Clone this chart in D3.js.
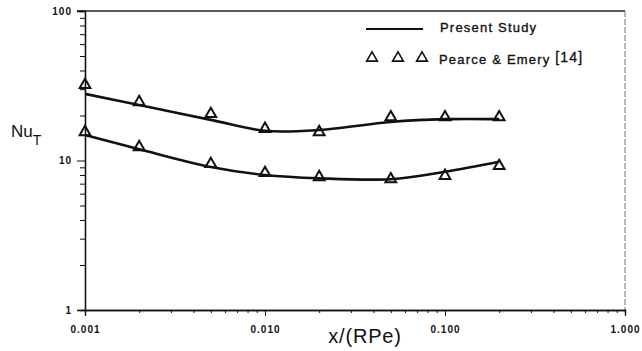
<!DOCTYPE html>
<html>
<head>
<meta charset="utf-8">
<script src="https://cdn.jsdelivr.net/npm/d3@7"></script>
<style>
	body { margin: 0; background: #fff; }
	svg { display: block; font-family: "Liberation Sans", Arial, sans-serif; }
</style>
</head>
<body>
<svg id="chart"></svg>
<script>
'use strict';

// x/(RPe) stations
var xStations = [0.001, 0.002, 0.005, 0.010, 0.020, 0.050, 0.100, 0.200];

// present study curves (upper and lower branch)
var studyUpper = [27.9, 23.5, 18.7, 15.8, 16.0, 18.1, 18.9, 18.9];
var studyLower = [14.8, 11.9, 9.05, 8.0, 7.6, 7.5, 8.4, 9.8];

// Pearce & Emery [14] data points
var pearceUpper = [32.0, 24.6, 20.5, 16.3, 15.5, 19.5, 19.5, 19.5];
var pearceLower = [15.5, 12.3, 9.5, 8.25, 7.75, 7.5, 7.9, 9.2];

var xMajorTicks = [0.001, 0.01, 0.1, 1];
var yMajorTicks = [1, 10, 100];

var WIDTH = 642,
	HEIGHT = 351;

var plot = { left: 85, right: 625, top: 11, bottom: 310 };

var svg = d3.select('#chart')
	.attr('width', WIDTH)
	.attr('height', HEIGHT);

var x = d3.scaleLog()
	.domain([0.001, 1])
	.range([plot.left, plot.right]);

var y = d3.scaleLog()
	.domain([1, 100])
	.range([plot.bottom, plot.top]);

// minor ticks for every decade
var xMinor = [], yMinor = [];
[0.001, 0.01, 0.1].forEach(function (d) {
	for (var k = 2; k < 10; k++) xMinor.push(d * k);
});
[1, 10].forEach(function (d) {
	for (var k = 2; k < 10; k++) yMinor.push(d * k);
});

// frame: top and right
svg.append('line')
	.attr('x1', plot.left - 8).attr('x2', plot.right)
	.attr('y1', plot.top).attr('y2', plot.top)
	.style('stroke', '#222').style('stroke-width', 1.3);
svg.append('line')
	.attr('x1', plot.right).attr('x2', plot.right)
	.attr('y1', plot.top).attr('y2', plot.bottom)
	.style('stroke', '#777').style('stroke-width', 1)
	.style('stroke-dasharray', '6,2');

// x axis
svg.append('g')
	.attr('class', 'axis')
	.attr('transform', 'translate(0,' + plot.bottom + ')')
	.call(d3.axisBottom(x).tickValues(xMinor).tickSize(3).tickFormat(''));
svg.append('g')
	.attr('class', 'axis major')
	.attr('transform', 'translate(0,' + plot.bottom + ')')
	.call(d3.axisBottom(x).tickValues(xMajorTicks).tickSize(6).tickPadding(10)
		.tickFormat(d3.format('.3f')));

// y axis
svg.append('g')
	.attr('class', 'axis')
	.attr('transform', 'translate(' + plot.left + ',0)')
	.call(d3.axisLeft(y).tickValues(yMinor).tickSize(5).tickFormat(''));
svg.append('g')
	.attr('class', 'axis major')
	.attr('transform', 'translate(' + plot.left + ',0)')
	.call(d3.axisLeft(y).tickValues(yMajorTicks).tickSize(8).tickPadding(5)
		.tickFormat(d3.format('d')));

svg.selectAll('.axis path').style('stroke', '#111').style('stroke-width', 1.3);
svg.selectAll('.axis line').style('stroke', '#111').style('stroke-width', 1);
svg.selectAll('.axis text')
	.style('font-size', '10px')
	.style('font-weight', 'bold')
	.style('letter-spacing', '1px')
	.style('fill', '#111');

// curves
var line = d3.line()
	.x(function (d) { return x(d[0]); })
	.y(function (d) { return y(d[1]); })
	.curve(d3.curveCatmullRom.alpha(0.5));

[studyUpper, studyLower].forEach(function (series) {
	svg.append('path')
		.datum(xStations.map(function (xv, i) { return [xv, series[i]]; }))
		.attr('d', line)
		.style('fill', 'none')
		.style('stroke', '#111')
		.style('stroke-width', 2.6);
});

// triangles
var tri = d3.symbol().type(d3.symbolTriangle).size(50);

[pearceUpper, pearceLower].forEach(function (series) {
	svg.selectAll(null)
		.data(xStations.map(function (xv, i) { return [xv, series[i]]; }))
		.enter()
		.append('path')
		.attr('d', tri)
		.attr('transform', function (d) {
			return 'translate(' + x(d[0]) + ',' + y(d[1]) + ')';
		})
		.style('fill', 'none')
		.style('stroke', '#111')
		.style('stroke-width', 2);
});

// legend
svg.append('line')
	.attr('x1', 366).attr('x2', 423)
	.attr('y1', 29).attr('y2', 29)
	.style('stroke', '#111').style('stroke-width', 2);
svg.append('text')
	.attr('x', 440).attr('y', 32)
	.style('font-size', '13px')
	.style('letter-spacing', '1.2px')
	.style('fill', '#111')
	.style('stroke', '#111')
	.style('stroke-width', 0.35)
	.text('Present Study');

[372, 398, 422].forEach(function (lx) {
	svg.append('path')
		.attr('d', tri)
		.attr('transform', 'translate(' + lx + ',58)')
		.style('fill', 'none')
		.style('stroke', '#111')
		.style('stroke-width', 1.6);
});
var legText = svg.append('text')
	.attr('x', 439).attr('y', 64)
	.style('font-size', '13px')
	.style('letter-spacing', '1.2px')
	.style('fill', '#111')
	.style('stroke', '#111')
	.style('stroke-width', 0.35);
legText.append('tspan').text('Pearce & Emery ');
legText.append('tspan').attr('dy', -2).style('font-size', '14px').text('[14]');

// axis titles
svg.append('text')
	.attr('x', 365).attr('y', 343)
	.attr('text-anchor', 'middle')
	.style('font-size', '20px')
	.style('letter-spacing', '0.8px')
	.style('fill', '#111')
	.text('x/(RPe)');

var yTitle = svg.append('text')
	.attr('x', 11).attr('y', 137)
	.style('font-size', '17px')
	.style('fill', '#111');
yTitle.append('tspan').text('Nu');
yTitle.append('tspan').attr('dy', 8).style('font-size', '14px').text('T');
</script>
</body>
</html>
